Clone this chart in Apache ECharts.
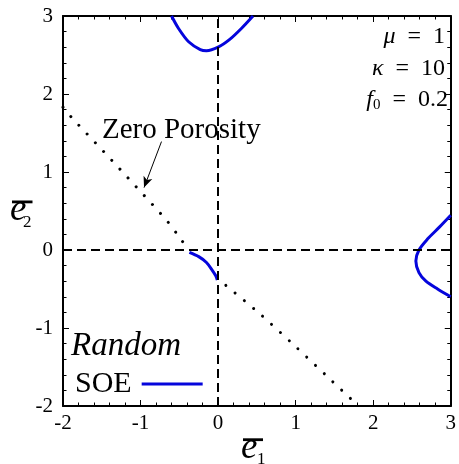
<!DOCTYPE html>
<html><head><meta charset="utf-8">
<script src="https://cdn.jsdelivr.net/npm/echarts@6/dist/echarts.min.js"></script>
<style>html,body{margin:0;padding:0;background:#fff}#c{width:459px;height:464px}</style>
</head><body><div id="c"></div>
<script>
// ---- data ----
const axisMin = -2, axisMax = 3, axisStep = 1;
const soeTop = [[-0.60,3.0],[-0.51,2.84],[-0.38,2.67],[-0.23,2.57],[-0.15,2.555],[0,2.60],[0.15,2.70],[0.30,2.84],[0.45,3.0]];
const soeMiddle = [[-0.37,-0.03],[-0.25,-0.085],[-0.15,-0.16],[-0.075,-0.26],[-0.03,-0.33],[-0.01,-0.385]];
const soeRight = [[3.0,0.446],[2.85,0.29],[2.70,0.14],[2.59,0.0],[2.55,-0.14],[2.59,-0.29],[2.68,-0.40],[2.83,-0.50],[3.0,-0.60]];
const zeroPorosityUpper = [[-2.0,1.83],[-1.89,1.70],[-1.474,1.26],[-1.061,0.815],[-0.658,0.373],[-0.487,0.147],[-0.41,0.044]];
const zeroPorosityLower = [[0.10,-0.454],[0.533,-0.814],[0.971,-1.212],[1.413,-1.627],[1.81,-2.0]];
const arrowFrom = [-0.73,1.39], arrowTo = [-0.955,0.80];
const zeroLabel = 'Zero Porosity';
const caseLabel = 'Random';
const seriesName = 'SOE';
const params = [
  {sym:'μ', sub:'', val:'1'},
  {sym:'κ', sub:'', val:'10'},
  {sym:'f', sub:'0', val:'0.2'}
];

const FONT = 'Liberation Serif';
const BLUE = '#0505dc';
const chart = echarts.init(document.getElementById('c'), null, {renderer:'canvas'});

function axisBase(pos, showLabel){
  return {
    type:'value', min:axisMin, max:axisMax, interval:axisStep, position:pos,
    axisLine:{show:true, onZero:false, lineStyle:{color:'#000', width:2}},
    axisTick:{show:true, inside:true, length:6, lineStyle:{color:'#000', width:1}},
    minorTick:{show:true, splitNumber:5, length:3.5, lineStyle:{color:'#000', width:1}},
    splitLine:{show:false},
    axisLabel:{show:showLabel, color:'#000', fontFamily:FONT, fontSize:21, margin: (pos==='bottom'?7:10)}
  };
}

const paramRich = {
  i:{fontFamily:FONT, fontStyle:'italic', fontSize:24, color:'#000'},
  n:{fontFamily:FONT, fontSize:24, color:'#000'},
  s:{fontFamily:FONT, fontSize:15, color:'#000', padding:[10,0,0,0]}
};
const paramBaselines = [45, 77, 108];
const paramRight = [445, 445, 448];

const graphics = [];
params.forEach((p,k)=>{
  let t = '{i|'+p.sym+'}';
  if (p.sub) t += '{s|'+p.sub+'}';
  t += '{n|\u2002=\u2002'+p.val+'}';
  graphics.push({type:'text', style:{x:paramRight[k], y:paramBaselines[k]-8, text:t, rich:paramRich, align:'right', verticalAlign:'middle', fontFamily:FONT}});
});
graphics.push({type:'text', style:{x:102, y:140-10, text:zeroLabel, fontFamily:FONT, fontSize:29, fill:'#000', align:'left', verticalAlign:'middle'}});
graphics.push({type:'text', style:{x:71, y:357-11, text:caseLabel, fontFamily:FONT, fontStyle:'italic', fontSize:33, fill:'#000', align:'left', verticalAlign:'middle'}});
// axis names: italic e with overbar and subscript
graphics.push({type:'text', style:{x:241, y:460-12, text:'e', fontFamily:FONT, fontStyle:'italic', fontSize:37, fill:'#000', align:'left', verticalAlign:'middle'}});
graphics.push({type:'text', style:{x:257, y:466-6, text:'1', fontFamily:FONT, fontSize:17, fill:'#000', align:'left', verticalAlign:'middle'}});
graphics.push({type:'rect', shape:{x:243, y:438.3, width:20, height:2.8}, style:{fill:'#000'}});
graphics.push({type:'text', style:{x:10, y:222.7-12, text:'e', fontFamily:FONT, fontStyle:'italic', fontSize:37, fill:'#000', align:'left', verticalAlign:'middle'}});
graphics.push({type:'text', style:{x:23, y:228.3-6, text:'2', fontFamily:FONT, fontSize:17, fill:'#000', align:'left', verticalAlign:'middle'}});
graphics.push({type:'rect', shape:{x:12, y:200.5, width:20.5, height:2.8}, style:{fill:'#000'}});

const dotted = {type:[0.01, 12], cap:'round', width:3, color:'#000'};
const soeStyle = {color:BLUE, width:3};

const option = {
  animation:false,
  textStyle:{fontFamily:FONT},
  grid:{left:63, right:4, top:16, bottom:58, containLabel:false},
  xAxis:[axisBase('bottom', true), axisBase('top', false)],
  yAxis:[axisBase('left', true), axisBase('right', false)],
  legend:{
    data:[seriesName], left:75, top:369, padding:0, align:'right',
    icon:'rect', itemWidth:61, itemHeight:3,
    textStyle:{fontFamily:FONT, fontSize:30, color:'#000', padding:[0,5,0,0]}
  },
  series:[
    {type:'line', name:'zeroUpper', data:zeroPorosityUpper, smooth:0.3, showSymbol:false, lineStyle:dotted, silent:true, z:1,
     markLine:{silent:true, symbol:'none', label:{show:false}, animation:false,
       lineStyle:{type:[9,5], width:2, color:'#000'},
       data:[{xAxis:0},{yAxis:0}]}},
    {type:'line', name:'zeroLower', data:zeroPorosityLower, smooth:0.3, showSymbol:false, lineStyle:dotted, silent:true, z:1,
     markLine:{silent:true, label:{show:false}, animation:false, symbolSize:[7,11],
       lineStyle:{type:'solid', width:1, color:'#000'},
       data:[[{coord:arrowFrom, symbol:'none'},{coord:arrowTo, symbol:'arrow'}]]}},
    {type:'line', name:seriesName, data:soeTop, smooth:0.3, showSymbol:false, lineStyle:soeStyle, itemStyle:{color:BLUE}, z:3},
    {type:'line', name:seriesName, data:soeMiddle, smooth:0.3, showSymbol:false, lineStyle:soeStyle, itemStyle:{color:BLUE}, z:3},
    {type:'line', name:seriesName, data:soeRight, smooth:0.3, showSymbol:false, lineStyle:soeStyle, itemStyle:{color:BLUE}, z:3}
  ],
  graphic:graphics
};
chart.setOption(option);
</script></body></html>
